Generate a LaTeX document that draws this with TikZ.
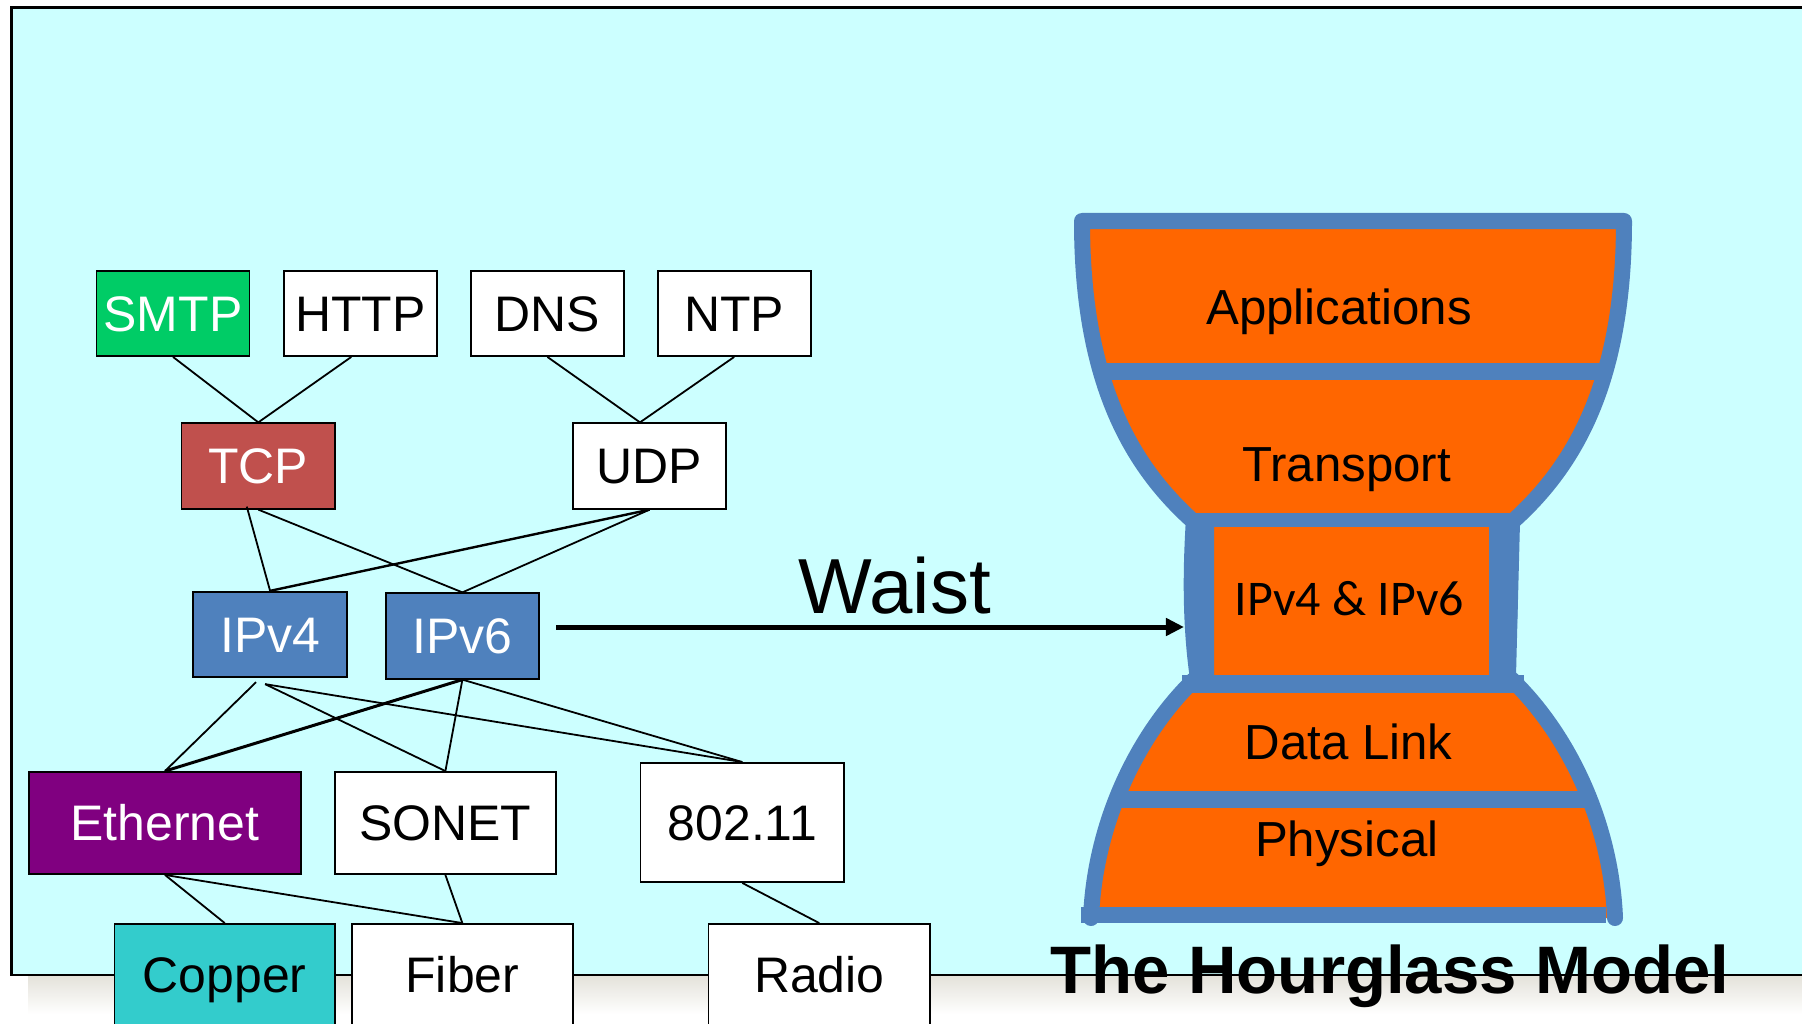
\documentclass[tikz,border=0pt]{standalone}
\usepackage{fontspec}
\setmainfont{Liberation Sans}
\newfontfamily\calfont{Carlito}
\usetikzlibrary{arrows.meta,calc}
\definecolor{bgcyan}{HTML}{CCFFFF}
\definecolor{smtpgreen}{HTML}{00CC66}
\definecolor{tcpred}{HTML}{C0504D}
\definecolor{ipblue}{HTML}{4F81BD}
\definecolor{ethpurple}{HTML}{800080}
\definecolor{copperteal}{HTML}{33CCCC}
\definecolor{hgorange}{HTML}{FF6600}
\definecolor{hgblue}{HTML}{4F81BD}
\definecolor{shadowc}{RGB}{228,226,218}
\newcommand\boxfont{\fontsize{14.2}{16}\selectfont}
\newcommand\hgfont{\fontsize{14}{16}\selectfont}
\begin{document}
\begin{tikzpicture}[x=0.01cm,y=-0.01cm,
  box/.style={draw=black, line width=0.018cm, inner sep=0pt, font=\boxfont,
    text height=0.358cm, text depth=0pt, align=center},
  topbox/.style={box, minimum width=1.53cm, minimum height=0.85cm},
  midbox/.style={box, minimum width=1.535cm, minimum height=0.854cm},
  lowbox/.style={box, minimum height=1.02cm},
  conn/.style={line width=0.018cm},
  medconn/.style={line width=0.024cm},
  thickconn/.style={line width=0.03cm},
  hgtext/.style={font=\hgfont, inner sep=0pt, anchor=base},
  hgband/.style={fill=hgblue}]
\useasboundingbox (0,0) rectangle (1802,1024);
\clip (0,0) rectangle (1802,1024);

% shadow and background panel
\shade[top color=shadowc, bottom color=white] (28,976) rectangle (1802,1014);
\draw[fill=bgcyan, line width=0.02cm] (11.5,7.5) rectangle (1830,975);

% ---------- hourglass ----------
\fill[hgorange] (1082,221) -- (1624,221)
  .. controls (1624,380) and (1576,465) .. (1512,522) -- (1508,676)
  .. controls (1566,730) and (1611,820) .. (1615,918) -- (1091,918)
  .. controls (1095,820) and (1140,730) .. (1198,676) -- (1194,522)
  .. controls (1130,465) and (1082,380) .. (1082,221) -- cycle;
\draw[hgblue, line width=0.16cm, line cap=round, line join=round]
  (1091,918) .. controls (1095,820) and (1140,730) .. (1198,676)
  -- (1194,522) .. controls (1130,465) and (1082,380) .. (1082,221)
  -- (1624,221) .. controls (1624,380) and (1576,465) .. (1512,522)
  -- (1508,676) .. controls (1566,730) and (1611,820) .. (1615,918);
% waist sides
\fill[hgblue] (1186,518) .. controls (1182,580) and (1183,635) .. (1191,686)
  -- (1214,686) -- (1214,518) -- cycle;
\fill[hgblue] (1515,518) .. controls (1519,580) and (1519,635) .. (1511,686)
  -- (1489,686) -- (1489,518) -- cycle;
% horizontal bands
\fill[hgband] (1101,363.3) rectangle (1605,380);
\fill[hgband] (1190,513.3) rectangle (1514,527.3);
\fill[hgband] (1182,675) rectangle (1524,692.7);
\fill[hgband] (1116,790.7) rectangle (1590,807.7);
\fill[hgband] (1080.7,906.7) rectangle (1606,923.3);

\node[hgtext] (apps) at (1339,324) {Applications};
\node[hgtext] (transp) at (1346.5,481.7) {Transport};
\node[hgtext, font=\calfont\fontsize{14.2}{16}\selectfont] (ipboth) at (1349.5,615) {IPv4 \& IPv6};
\node[hgtext] (dlink) at (1348.6,759.3) {Data Link};
\node[hgtext] (phys) at (1346.8,856.7) {Physical};

% ---------- protocol boxes ----------
\node[topbox, fill=smtpgreen, text=white] (smtp) at (173,313.5) {SMTP};
\node[topbox, fill=white] (http) at (360.3,313.5) {HTTP};
\node[topbox, fill=white] (dns) at (547.4,313.5) {DNS};
\node[topbox, fill=white] (ntp) at (734.2,313.5) {NTP};
\node[midbox, fill=tcpred, text=white] (tcp) at (258.3,466) {TCP};
\node[midbox, fill=white] (udp) at (649.6,466) {UDP};
\node[midbox, fill=ipblue, text=white] (ipv4) at (270.1,634.5) {IPv4};
\node[midbox, fill=ipblue, text=white] (ipv6) at (462.4,636) {IPv6};
\node[lowbox, minimum width=2.72cm, fill=ethpurple, text=white] (eth) at (165,823) {Ethernet};
\node[lowbox, minimum width=2.208cm, fill=white] (sonet) at (445.4,823) {SONET};
\node[box, minimum width=2.034cm, minimum height=1.19cm, fill=white] (wlan) at (742.3,822.5) {802.11};
\node[lowbox, minimum width=2.205cm, fill=copperteal] (copper) at (224.75,975) {Copper};
\node[lowbox, minimum width=2.207cm, fill=white] (fiber) at (462.35,975) {Fiber};
\node[lowbox, minimum width=2.215cm, fill=white] (radio) at (819.25,975) {Radio};

% ---------- connectors ----------
\draw[conn] (smtp.south) -- (tcp.north);
\draw[conn] ($(http.south)+(-9,0)$) -- (tcp.north);
\draw[conn] (dns.south) -- ($(udp.north)+(-9.6,0)$);
\draw[conn] (ntp.south) -- ($(udp.north)+(-9.6,0)$);
\draw[conn] ($(tcp.south)+(-11.5,-3)$) -- (ipv4.north);
\draw[conn] (tcp.south) -- (ipv6.north);
\draw[medconn] (udp.south) -- (ipv4.north);
\draw[conn] (udp.south) -- (ipv6.north);
\draw[conn] ($(ipv4.south)+(-14,4)$) -- (eth.north);
\draw[conn] ($(ipv4.south)+(-5,6)$) -- (sonet.north);
\draw[conn] ($(ipv4.south)+(-5,6)$) -- (wlan.north);
\draw[thickconn] (ipv6.south) -- (eth.north);
\draw[conn] (ipv6.south) -- (sonet.north);
\draw[conn] (ipv6.south) -- (wlan.north);
\draw[conn] (eth.south) -- (copper.north);
\draw[conn] (eth.south) -- (fiber.north);
\draw[conn] (sonet.south) -- (fiber.north);
\draw[conn] (wlan.south) -- (radio.north);

% ---------- waist arrow and labels ----------
\coordinate (wstart) at (556,627);
\coordinate (wend) at (1184,627);
\draw[line width=0.05cm, -{Triangle[length=0.18cm,width=0.17cm]}] (wstart) -- (wend);
\node[font=\fontsize{22.2}{26}\selectfont, anchor=base, inner sep=0pt] (waistlbl) at (894.6,613) {Waist};
\node[font=\bfseries\fontsize{19.1}{22}\selectfont, anchor=base, inner sep=0pt] (title) at (1390,993) {The Hourglass Model};
\end{tikzpicture}
\end{document}
